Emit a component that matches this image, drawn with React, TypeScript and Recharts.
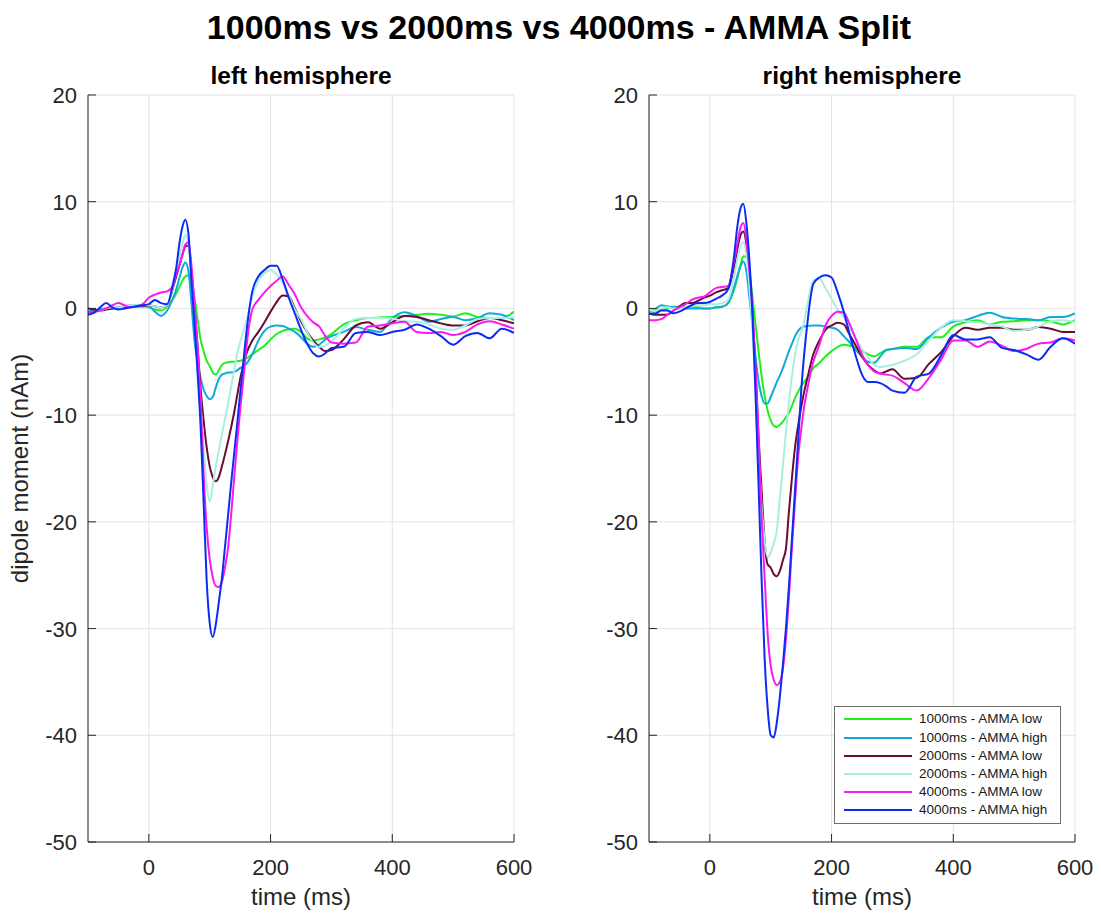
import React from 'react';
import { LineChart, Line, XAxis, YAxis, CartesianGrid, Legend } from 'recharts';

// time axis (ms)
const TIME = [
  -100, -90, -80, -70, -60, -50, -40, -30, -20, -10, 0, 10, 20, 30, 40,
  45, 50, 55, 60, 65, 70, 75, 80, 85, 90, 95, 100, 105, 110, 115, 120, 125, 130, 135, 140, 145, 150, 155, 160,
  170, 180, 190, 200, 210, 220, 230, 240, 250, 260, 270, 280, 290, 300,
  320, 340, 360, 380, 400, 420, 440, 460, 480, 500, 520, 540, 560, 580, 600,
];

const X_TICKS = [0, 200, 400, 600];
const Y_TICKS = [-50, -40, -30, -20, -10, 0, 10, 20];

const SERIES_NAMES = [
  '1000ms - AMMA low',
  '1000ms - AMMA high',
  '2000ms - AMMA low',
  '2000ms - AMMA high',
  '4000ms - AMMA low',
  '4000ms - AMMA high',
];
const SERIES_KEYS = ['s1000low', 's1000high', 's2000low', 's2000high', 's4000low', 's4000high'];
const SERIES_COLORS = ['#1ef01e', '#10a9da', '#6a0c33', '#a9eee0', '#fa19f2', '#0a2cf5'];

// ---- left hemisphere (nAm) ----
const LEFT_1000_LOW = [
  -0.4, -0.3, -0.1, 0.0, 0.0, 0.1, 0.2, 0.2, 0.2, 0.2, 0.1, -0.1, -0.2, 0.2, 0.9,
  1.4, 2.0, 2.6, 3.0, 3.1, 2.4, 1.0, -1.0, -2.9, -4.0, -4.9, -5.4, -6.0, -6.2, -5.8, -5.3, -5.1, -5.05, -5.0, -5.0, -4.95, -4.9, -4.85, -4.7,
  -4.3, -3.9, -3.5, -2.9, -2.4, -2.1, -1.95, -1.9, -2.2, -2.8, -3.0, -2.9, -2.7, -2.4,
  -1.5, -1.1, -0.9, -0.85, -0.8, -0.7, -0.6, -0.5, -0.6, -0.75, -0.45, -0.8, -0.9, -0.9, -0.3,
];
const LEFT_1000_HIGH = [
  -0.3, -0.2, -0.1, 0.0, 0.0, 0.1, 0.2, 0.3, 0.3, 0.3, 0.2, -0.3, -0.7, -0.2, 1.0,
  1.8, 2.8, 3.8, 4.3, 3.5, 0.5, -3.0, -5.0, -6.5, -7.6, -8.2, -8.5, -8.3, -7.4, -6.6, -6.2, -6.1, -6.0, -6.0, -5.95, -5.8, -5.6, -5.4, -5.2,
  -4.3, -3.0, -2.1, -1.7, -1.6, -1.65, -1.9, -2.2, -2.7, -3.3, -3.6, -3.4, -2.9, -2.6,
  -2.2, -1.75, -2.0, -2.2, -0.9, -0.35, -0.7, -1.25, -1.0, -0.8, -1.1, -0.9, -0.45, -0.6, -1.1,
];
const LEFT_2000_LOW = [
  0.0, -0.1, -0.2, -0.1, 0.0, 0.1, 0.1, 0.2, 0.2, 0.2, 0.3, 0.2, 0.1, 0.3, 2.0,
  3.0, 4.0, 5.0, 5.8, 5.9, 3.5, 0.0, -3.5, -7.5, -10.5, -13.0, -14.8, -15.8, -16.2, -15.8, -14.8, -13.7, -12.5, -11.2, -9.8, -8.2, -6.6, -5.4, -4.3,
  -3.0, -2.2, -1.3, -0.3, 0.6, 1.2, 1.1, 0.0, -1.2, -2.2, -3.0, -3.6, -4.0, -3.9,
  -2.9, -1.6, -1.3, -1.9, -1.3, -0.7, -0.8, -1.1, -1.4, -1.6, -1.6, -1.2, -0.9, -1.1, -1.4,
];
const LEFT_2000_HIGH = [
  -0.5, -0.4, -0.2, 0.0, 0.1, 0.1, 0.2, 0.3, 0.3, 0.3, 0.3, 0.2, 0.1, 0.3, 2.2,
  3.5, 4.8, 6.0, 6.9, 6.0, 3.0, -1.0, -5.0, -9.0, -13.0, -16.5, -18.1, -16.6, -14.8, -13.3, -11.8, -10.4, -9.0, -7.4, -5.9, -4.3, -3.2, -2.2, -1.2,
  1.1, 2.6, 3.3, 3.6, 3.2, 2.4, 1.2, -0.1, -1.0, -2.2, -3.2, -3.6, -3.5, -3.1,
  -1.9, -1.0, -0.9, -0.9, -0.95, -1.2, -1.25, -1.5, -1.9, -2.0, -1.6, -1.0, -0.9, -0.9, -0.8,
];
const LEFT_4000_LOW = [
  -0.4, -0.3, -0.2, 0.0, 0.3, 0.5, 0.3, 0.1, 0.2, 0.4, 1.0, 1.3, 1.5, 1.6, 2.2,
  3.2, 4.0, 5.0, 6.0, 6.2, 4.0, 0.5, -3.5, -8.5, -15.5, -20.5, -23.5, -25.2, -26.0, -26.1, -25.6, -24.3, -22.5, -19.5, -16.0, -12.7, -9.5, -6.8, -3.8,
  -0.1, 0.8, 1.5, 2.1, 2.6, 3.0, 2.2, 1.3, 0.1, -0.7, -1.3, -1.7, -2.6, -3.2,
  -3.3, -3.2, -1.7, -1.6, -1.4, -1.25, -2.2, -2.3, -2.2, -2.5, -2.2, -1.5, -1.2, -1.5, -1.9,
];
const LEFT_4000_HIGH = [
  -0.6, -0.4, 0.1, 0.5, 0.1, -0.1, 0.0, 0.1, 0.2, 0.3, 0.4, 0.8, 0.5, 0.4, 2.4,
  3.8, 6.0, 7.6, 8.3, 7.0, 2.5, -1.5, -6.0, -11.0, -18.2, -25.5, -29.5, -30.8, -29.6, -27.5, -25.3, -22.4, -19.5, -16.5, -13.7, -10.9, -8.0, -5.2, -2.4,
  1.6, 3.0, 3.6, 4.0, 4.0, 2.7, 1.0, -0.5, -2.0, -3.3, -4.2, -4.5, -4.2, -3.7,
  -3.6, -2.3, -2.2, -2.5, -2.2, -2.0, -1.5, -1.9, -2.6, -3.4, -2.6, -2.3, -2.8, -1.9, -2.3,
];

// ---- right hemisphere (nAm) ----
const RIGHT_1000_LOW = [
  -0.5, -0.4, -0.1, 0.0, 0.15, 0.15, 0.1, 0.1, 0.1, 0.0, 0.0, 0.1, 0.15, 0.5, 1.8,
  2.8, 4.0, 4.9, 4.8, 3.5, 1.0, -1.5, -4.0, -6.3, -8.2, -9.6, -10.5, -11.0, -11.1, -10.9, -10.6, -10.2, -9.8, -9.1, -8.4, -7.8, -7.3, -6.9, -6.5,
  -5.6, -5.1, -4.5, -4.0, -3.6, -3.4, -3.5, -3.7, -4.0, -4.3, -4.5, -4.2, -3.9, -3.8,
  -3.6, -3.6, -2.7, -2.7, -1.7, -1.3, -1.1, -1.5, -1.25, -1.2, -1.1, -1.1, -1.2, -1.5, -1.1,
];
const RIGHT_1000_HIGH = [
  -0.3, -0.1, 0.3, 0.2, 0.1, 0.1, 0.0, 0.0, 0.0, 0.0, 0.0, 0.1, 0.15, 0.5, 2.0,
  3.0, 3.9, 4.4, 3.5, 1.0, -1.5, -4.5, -6.8, -8.2, -8.9, -8.9, -8.3, -7.6, -6.9, -6.3, -5.6, -4.8, -4.0, -3.3, -2.6, -2.1, -1.8, -1.7, -1.65,
  -1.6, -1.6, -1.7, -1.8, -2.0, -2.6, -3.2, -3.9, -4.5, -5.0, -5.1, -4.5, -3.9, -3.8,
  -3.7, -3.8, -2.7, -1.8, -1.25, -1.1, -0.7, -0.4, -0.8, -0.95, -1.0, -1.1, -0.8, -0.8, -0.46,
];
const RIGHT_2000_LOW = [
  -0.5, -0.6, -0.6, -0.6, -0.2, 0.2, 0.5, 0.5, 0.7, 1.0, 1.2, 1.5, 1.7, 1.9, 4.0,
  5.5, 6.8, 7.2, 6.0, 3.0, -0.5, -5.5, -12.0, -17.0, -21.8, -24.0, -24.3, -24.9, -25.1, -24.6, -23.6, -22.5, -19.0, -15.8, -13.0, -11.0, -9.3, -7.8, -6.6,
  -4.3, -3.0, -2.0, -1.6, -1.35, -1.5, -2.5, -3.5, -4.5, -5.3, -5.8, -6.1, -5.9, -5.7,
  -6.6, -6.5, -5.2, -4.1, -2.6, -1.8, -2.0, -1.8, -1.8, -2.0, -2.0, -1.75, -1.9, -2.2, -2.2,
];
const RIGHT_2000_HIGH = [
  -0.2, -0.2, 0.0, 0.1, 0.0, 0.0, 0.1, 0.2, 0.3, 0.3, 0.4, 0.4, 0.5, 0.8, 3.0,
  4.5, 5.8, 6.2, 5.0, 2.0, -2.0, -7.5, -13.5, -18.5, -21.8, -23.3, -22.9, -22.0, -20.8, -17.8, -14.8, -11.6, -8.8, -6.3, -4.3, -3.0, -2.2, -1.2, 0.3,
  2.6, 2.8, 1.9, 0.9, -0.1, -0.8, -1.8, -2.8, -3.8, -4.6, -5.3, -5.5, -5.4, -5.3,
  -4.9, -4.3, -3.0, -1.8, -1.1, -1.2, -1.3, -1.5, -1.7, -2.1, -2.0, -1.7, -1.2, -1.1, -1.25,
];
const RIGHT_4000_LOW = [
  -1.1, -1.1, -1.0, -0.6, -0.2, 0.1, 0.4, 0.8, 1.0, 1.1, 1.5, 1.9, 2.0, 2.1, 4.5,
  6.0, 7.5, 8.0, 6.5, 3.5, 0.0, -5.5, -12.0, -19.5, -25.2, -30.5, -33.5, -34.8, -35.3, -35.0, -33.8, -31.0, -27.0, -22.2, -18.0, -14.0, -11.4, -9.2, -7.6,
  -5.0, -3.4, -1.6, -0.7, -0.3, -0.4, -1.5, -2.9, -4.3, -5.3, -5.9, -6.1, -6.2, -6.3,
  -7.0, -7.7, -6.5, -4.8, -3.0, -3.0, -3.6, -3.1, -3.5, -4.0, -3.8, -3.3, -3.2, -2.8, -3.0,
];
const RIGHT_4000_HIGH = [
  -0.5, -0.5, -0.2, -0.2, -0.45, -0.3, 0.0, 0.3, 0.5, 0.5, 0.6, 0.9, 1.2, 1.8, 5.0,
  7.6, 9.3, 9.8, 8.0, 4.5, -0.5, -8.0, -16.5, -25.3, -32.8, -37.5, -40.0, -40.2, -38.8, -36.4, -33.4, -30.0, -26.0, -21.5, -17.0, -12.5, -7.8, -4.3, -1.5,
  2.3, 2.9, 3.1, 2.9, 1.5, -0.3, -2.5, -4.5, -6.2, -6.9, -6.9, -7.0, -7.3, -7.7,
  -7.9, -6.4, -6.1, -4.4, -2.5, -2.9, -2.9, -2.7, -3.7, -3.9, -4.3, -4.8, -3.6, -2.8, -3.3,
];

const LEFT_VALUES = [LEFT_1000_LOW, LEFT_1000_HIGH, LEFT_2000_LOW, LEFT_2000_HIGH, LEFT_4000_LOW, LEFT_4000_HIGH];
const RIGHT_VALUES = [RIGHT_1000_LOW, RIGHT_1000_HIGH, RIGHT_2000_LOW, RIGHT_2000_HIGH, RIGHT_4000_LOW, RIGHT_4000_HIGH];

function buildRows(values: number[][]) {
  return TIME.map((t, i) => {
    const row: Record<string, number> = { t };
    SERIES_KEYS.forEach((k, s) => {
      row[k] = values[s][i];
    });
    return row;
  });
}

const leftData = buildRows(LEFT_VALUES);
const rightData = buildRows(RIGHT_VALUES);

const FONT = '"Liberation Sans", Arial, Helvetica, sans-serif';
const AXIS_COLOR = '#262626';
const GRID_COLOR = '#e3e3e3';

const XTick = (props: any) => {
  const { x, y, payload } = props;
  return (
    <g>
      <line x1={x} x2={x} y1={y} y2={y - 8} stroke={AXIS_COLOR} strokeWidth={1} />
      <text x={x} y={y + 33} textAnchor="middle" fontSize={22} fill={AXIS_COLOR} fontFamily={FONT}>
        {payload.value}
      </text>
    </g>
  );
};

const YTick = (props: any) => {
  const { x, y, payload } = props;
  return (
    <g>
      <line x1={x} x2={x + 8} y1={y} y2={y} stroke={AXIS_COLOR} strokeWidth={1} />
      <text x={x - 11} y={y + 8} textAnchor="end" fontSize={22} fill={AXIS_COLOR} fontFamily={FONT}>
        {payload.value}
      </text>
    </g>
  );
};

const LegendBox = () => (
  <div
    style={{
      width: 227,
      height: 118,
      border: '1px solid #6e6e6e',
      background: '#ffffff',
      boxSizing: 'border-box',
      position: 'relative',
      fontFamily: FONT,
    }}
  >
    {SERIES_NAMES.map((name, i) => (
      <div
        key={name}
        style={{ position: 'absolute', left: 0, top: 3.3 + i * 18.2, height: 18, width: 225 }}
      >
        <div
          style={{
            position: 'absolute',
            left: 9,
            top: 8,
            width: 68,
            height: 2,
            background: SERIES_COLORS[i],
          }}
        />
        <div
          style={{
            position: 'absolute',
            left: 84,
            top: 0,
            lineHeight: '18px',
            fontSize: 13.5,
            color: '#1a1a1a',
            whiteSpace: 'nowrap',
          }}
        >
          {name}
        </div>
      </div>
    ))}
  </div>
);

function Panel(props: { data: any[]; left: number; title: string; yLabel: boolean; legend: boolean }) {
  const { data, left, title, yLabel, legend } = props;
  return (
    <div style={{ position: 'absolute', left, top: 0, width: 550, height: 914 }}>
      <div
        style={{
          position: 'absolute',
          left: 88,
          width: 426,
          top: 62,
          textAlign: 'center',
          fontSize: 24.5,
          fontWeight: 'bold',
          lineHeight: '28px',
          color: '#000',
          whiteSpace: 'nowrap',
        }}
      >
        {title}
      </div>
      <LineChart
        width={550}
        height={914}
        data={data}
        margin={{ top: 95, right: 36, bottom: 0, left: 0 }}
        style={{ fontFamily: FONT }}
      >
        <CartesianGrid stroke={GRID_COLOR} strokeWidth={1} />
        <XAxis
          dataKey="t"
          type="number"
          domain={[-100, 600]}
          ticks={X_TICKS}
          interval={0}
          allowDataOverflow
          height={72}
          tickSize={0}
          tickMargin={0}
          tickLine={false}
          axisLine={{ stroke: AXIS_COLOR, strokeWidth: 1 }}
          tick={(p: any) => <XTick {...p} />}
          label={(p: any) => (
            <text x={301} y={905} textAnchor="middle" fontSize={24} fill={AXIS_COLOR} fontFamily={FONT}>
              time (ms)
            </text>
          )}
        />
        <YAxis
          type="number"
          domain={[-50, 20]}
          ticks={Y_TICKS}
          interval={0}
          allowDataOverflow
          width={88}
          tickSize={0}
          tickMargin={0}
          tickLine={false}
          axisLine={{ stroke: AXIS_COLOR, strokeWidth: 1 }}
          tick={(p: any) => <YTick {...p} />}
          label={
            yLabel
              ? (p: any) => (
                  <text
                    x={28}
                    y={468.5}
                    transform="rotate(-90, 28, 468.5)"
                    textAnchor="middle"
                    fontSize={24}
                    fill={AXIS_COLOR}
                    fontFamily={FONT}
                  >
                    dipole moment (nAm)
                  </text>
                )
              : undefined
          }
        />
        {SERIES_KEYS.map((k, i) => (
          <Line
            key={k}
            dataKey={k}
            name={SERIES_NAMES[i]}
            type="monotone"
            stroke={SERIES_COLORS[i]}
            strokeWidth={2}
            dot={false}
            activeDot={false}
            isAnimationActive={false}
          />
        ))}
        {legend && (
          <Legend
            layout="vertical"
            align="center"
            verticalAlign="middle"
            wrapperStyle={{ left: 273, top: 706, width: 227, height: 118 }}
            content={() => <LegendBox />}
          />
        )}
      </LineChart>
    </div>
  );
}

export default function App() {
  return (
    <div
      style={{
        position: 'absolute',
        left: 0,
        top: 0,
        width: 1101,
        height: 914,
        background: '#ffffff',
        fontFamily: FONT,
        overflow: 'hidden',
      }}
    >
      <div
        style={{
          position: 'absolute',
          left: 0,
          top: 8,
          width: 1118,
          textAlign: 'center',
          fontSize: 34,
          fontWeight: 'bold',
          lineHeight: '38px',
          color: '#000',
          whiteSpace: 'nowrap',
        }}
      >
        1000ms vs 2000ms vs 4000ms - AMMA Split
      </div>
      <Panel data={leftData} left={0} title="left hemisphere" yLabel={true} legend={false} />
      <Panel data={rightData} left={561} title="right hemisphere" yLabel={false} legend={true} />
    </div>
  );
}
